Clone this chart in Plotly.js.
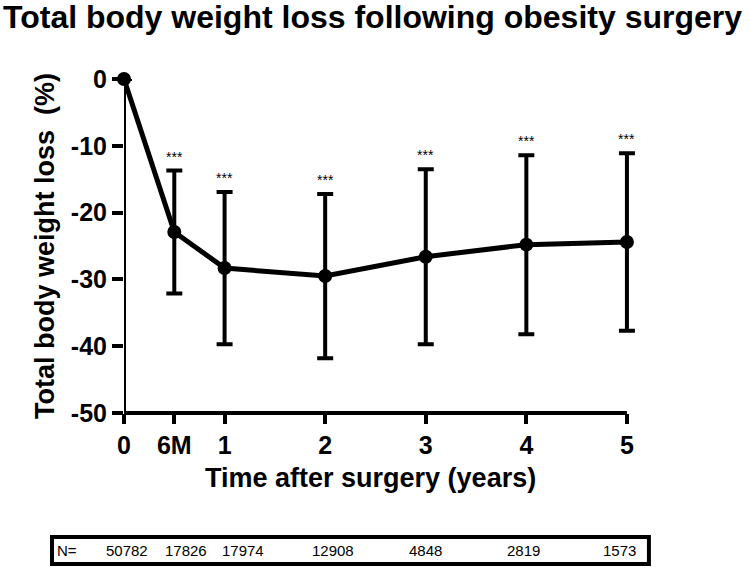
<!DOCTYPE html>
<html>
<head>
<meta charset="utf-8">
<script src="https://cdn.plot.ly/plotly-3.0.1.min.js"></script>
<style>html,body{margin:0;padding:0;background:#fff;}#chart{width:750px;height:567px;}</style>
</head>
<body>
<div id="chart"></div>
<script>
// Data
const timePoints = [0, 0.5, 1, 2, 3, 4, 5];
const tickLabels = ['0', '6M', '1', '2', '3', '4', '5'];
const meanTBWL = [0, -22.9, -28.3, -29.5, -26.6, -24.8, -24.4];
const sdTBWL = [0, 9.2, 11.4, 12.3, 13.1, 13.4, 13.3];
const sigLabels = ['', '***', '***', '***', '***', '***', '***'];
const nPatients = [50782, 17826, 17974, 12908, 4848, 2819, 1573];
const yTickVals = [0, -10, -20, -30, -40, -50];

// Style / layout
const W = 750, H = 567;
const xMax = 5.12;
const leftPx = 124, rightPx5 = 627, topPx = 79, bottomPx = 413;
const plotW = (rightPx5 - leftPx) * xMax / 5;
const M = {l: leftPx, r: W - leftPx - plotW, t: topPx, b: H - bottomPx};
const plotH = H - M.t - M.b;
const px2paperX = px => (px - M.l) / plotW;
const px2paperY = py => (H - M.b - py) / plotH;
const nShift = [3, 12, 18, 8, 0, -3, -7];
const FONT = 'Liberation Sans, Arial, Helvetica, sans-serif';

const trace = {
  x: timePoints,
  y: meanTBWL,
  type: 'scatter',
  mode: 'lines+markers',
  line: {color: '#000', width: 5},
  marker: {color: '#000', size: 14},
  error_y: {type: 'data', array: sdTBWL, visible: true, color: '#000', thickness: 4, width: 8},
  cliponaxis: false,
  hoverinfo: 'none'
};

const annotations = [];
timePoints.forEach((t, i) => {
  if (sigLabels[i]) {
    annotations.push({
      x: t, y: meanTBWL[i] + sdTBWL[i], xref: 'x', yref: 'y',
      text: sigLabels[i], showarrow: false, yanchor: 'bottom', yshift: 4,
      font: {family: FONT, size: 14, color: '#000'}
    });
  }
});
annotations.push({
  x: px2paperX(371), y: px2paperY(478), xref: 'paper', yref: 'paper',
  text: 'Time after surgery (years)', showarrow: false, xanchor: 'center', yanchor: 'middle',
  font: {family: FONT, size: 27, color: '#000', weight: 'bold'}
});
annotations.push({
  x: px2paperX(55), y: px2paperY(550), xref: 'paper', yref: 'paper',
  text: 'N=', showarrow: false, xanchor: 'left', yanchor: 'middle',
  font: {family: FONT, size: 15, color: '#000'}
});
timePoints.forEach((t, i) => {
  annotations.push({
    x: t, y: px2paperY(550), xref: 'x', yref: 'paper',
    text: String(nPatients[i]), showarrow: false, xanchor: 'center', yanchor: 'middle',
    xshift: nShift[i],
    font: {family: FONT, size: 15, color: '#000'}
  });
});

const layout = {
  width: W, height: H,
  margin: M,
  paper_bgcolor: '#fff', plot_bgcolor: '#fff',
  showlegend: false,
  title: {
    text: 'Total body weight loss following obesity surgery',
    font: {family: FONT, size: 32, color: '#000', weight: 'bold'},
    xref: 'container', x: 3 / W, xanchor: 'left',
    yref: 'container', y: 1 - 17 / H, yanchor: 'middle'
  },
  xaxis: {
    range: [0, xMax],
    tickmode: 'array', tickvals: timePoints, ticktext: tickLabels,
    showgrid: false, zeroline: false, showline: false,
    ticks: 'outside', ticklen: 10, tickwidth: 4, tickcolor: '#000',
    tickfont: {family: FONT, size: 25, color: '#000', weight: 'bold'}
  },
  yaxis: {
    range: [-50, 0],
    tickmode: 'array', tickvals: yTickVals, ticktext: yTickVals.map(String),
    showgrid: false, zeroline: false, showline: false,
    ticks: 'outside', ticklen: 11, tickwidth: 4, tickcolor: '#000',
    tickfont: {family: FONT, size: 25, color: '#000', weight: 'bold'},
    title: {text: 'Total body weight loss\u00a0\u00a0(%)', font: {family: FONT, size: 27, color: '#000', weight: 'bold'}, standoff: 8}
  },
  shapes: [
    {type: 'line', xref: 'x', yref: 'paper', x0: timePoints[0], x1: timePoints[timePoints.length - 1],
     y0: 0, y1: 0, line: {color: '#000', width: 4}},
    {type: 'line', xref: 'x', yref: 'paper', x0: timePoints[0], x1: timePoints[0],
     y0: px2paperY(bottomPx + 2), y1: 1, line: {color: '#000', width: 4}},
    {type: 'rect', xref: 'paper', yref: 'paper',
     x0: px2paperX(52), x1: px2paperX(649), y0: px2paperY(564), y1: px2paperY(537),
     line: {color: '#000', width: 4}, fillcolor: 'rgba(0,0,0,0)'}
  ],
  annotations: annotations
};

Plotly.newPlot('chart', [trace], layout, {displayModeBar: false, staticPlot: true});
</script>
</body>
</html>
